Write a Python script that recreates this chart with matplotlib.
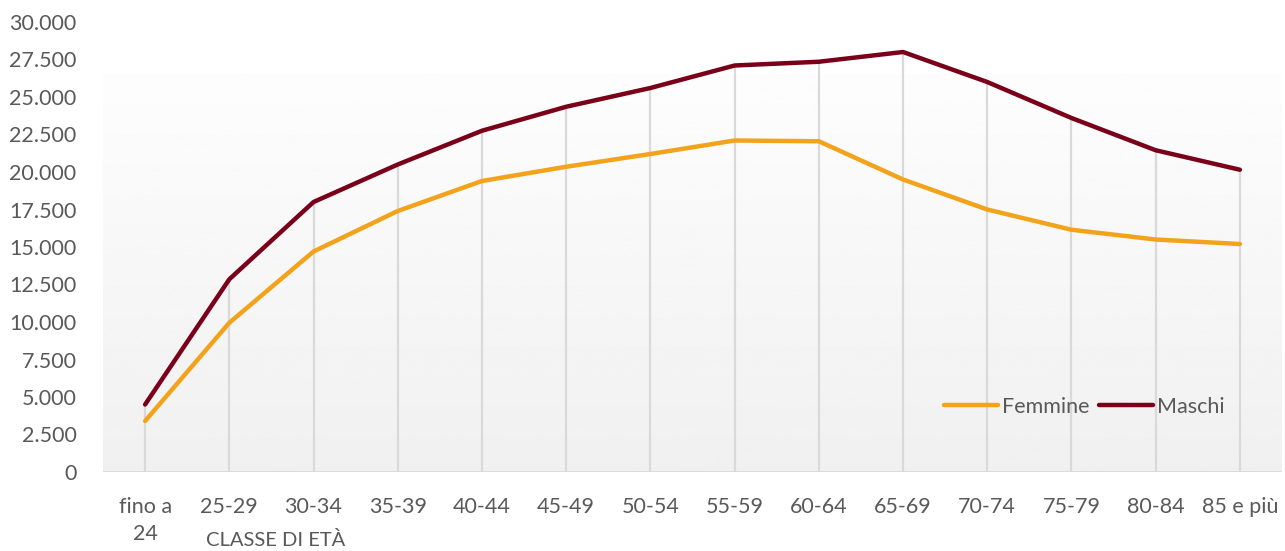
import matplotlib
matplotlib.use('Agg')
import matplotlib.pyplot as plt
import numpy as np

# age classes and average values per sex
classi = ['fino a\n24', '25-29', '30-34', '35-39', '40-44', '45-49', '50-54',
          '55-59', '60-64', '65-69', '70-74', '75-79', '80-84', '85 e più']
femmine = [3400, 9950, 14700, 17400, 19400, 20350, 21200,
           22100, 22050, 19500, 17500, 16150, 15500, 15200]
maschi = [4500, 12850, 18000, 20500, 22750, 24350, 25600,
          27100, 27350, 28000, 26000, 23600, 21450, 20150]

yticks = np.arange(0, 30001, 2500)
ytick_labels = ['{:,}'.format(v).replace(',', '.') for v in yticks]

plt.rcParams['font.family'] = ['Lato', 'DejaVu Sans']
text_col = '#595959'
grid_col = '#d9d9d9'

fig = plt.figure(figsize=(12.85, 5.51), dpi=100)
ax = fig.add_axes([103 / 1285, 79 / 551, 1179 / 1285, 450 / 551])
x = np.arange(len(classi))
ax.set_xlim(-0.5, len(classi) - 0.5)
ax.set_ylim(0, 30000)

# plot area fill: light vertical gradient
grad = np.linspace(0.941, 0.992, 256).reshape(-1, 1)
ax.imshow(grad, cmap='gray', vmin=0, vmax=1, aspect='auto', origin='lower',
          extent=(-0.5, len(classi) - 0.5, 0, 26500), zorder=0)

# drop lines from the highest point down to the axis
top = np.maximum(femmine, maschi)
ax.vlines(x, 0, top, color=grid_col, lw=1.6, zorder=1)
ax.axhline(0, color=grid_col, lw=2.0, zorder=1)

ax.plot(x, femmine, color='#F2A31B', lw=3.2, label='Femmine',
        solid_capstyle='round', solid_joinstyle='round', zorder=3)
ax.plot(x, maschi, color='#7A0019', lw=3.2, label='Maschi',
        solid_capstyle='round', solid_joinstyle='round', zorder=3)

for s in ax.spines.values():
    s.set_visible(False)
ax.set_yticks(yticks)
ax.set_yticklabels(ytick_labels)
ax.set_xticks(x)
ax.set_xticklabels(classi, linespacing=1.45)
ax.tick_params(length=0, labelsize=15.5, colors=text_col)
ax.tick_params(axis='y', pad=19)
ax.tick_params(axis='x', pad=18)

fig.text(276 / 1285, 1 - 540 / 551, 'CLASSE DI ETÀ', ha='center', va='center',
         fontsize=14.5, color=text_col)

ax.legend(loc='center left', bbox_to_anchor=(944 / 1285, 1 - 407 / 551),
          bbox_transform=fig.transFigure, ncol=2, frameon=False,
          handlelength=2.5, handletextpad=0.2, columnspacing=0.45,
          fontsize=15.5, labelcolor=text_col, borderaxespad=0, borderpad=0)

fig.savefig('out.png', dpi=100, facecolor='white')
